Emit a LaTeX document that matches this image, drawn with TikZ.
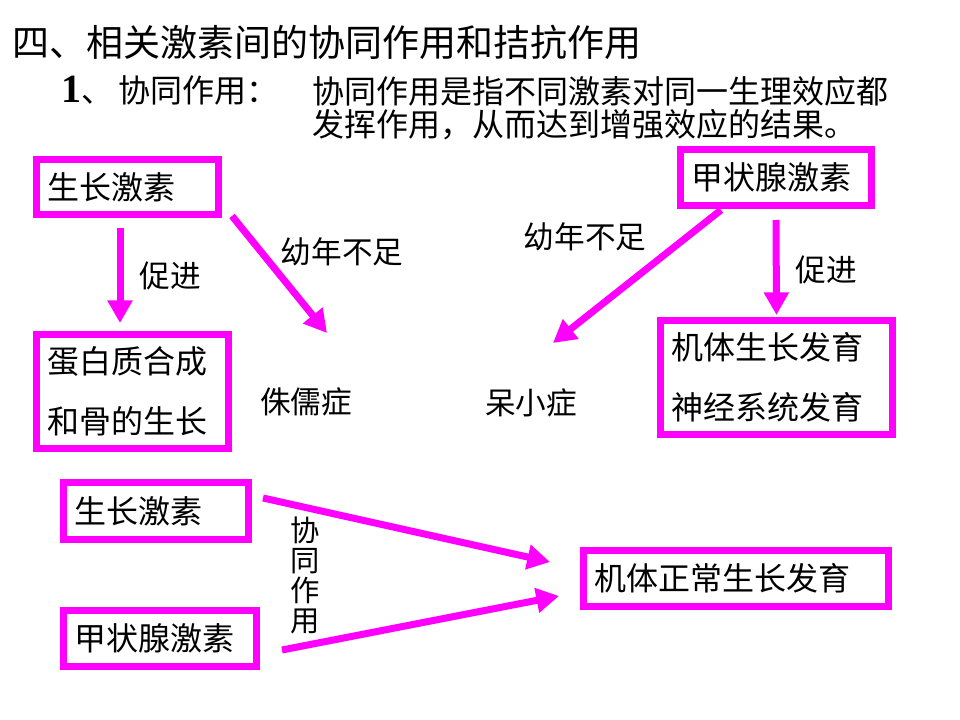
\documentclass[tikz,border=0pt]{standalone}
\usepackage{fontspec}
\setmainfont{Noto Sans CJK SC}
\newfontfamily\numfont{Liberation Serif}
\usepackage{tikz}
\usepackage{xcolor}
\usetikzlibrary{arrows.meta, positioning, calc}
\definecolor{mgnt}{RGB}{255,0,255}
\tikzset{
  % Magenta framed box, text flush left
  MB/.style={rectangle,draw=mgnt,line width=5.25pt,
             text width=#1,align=left,inner xsep=8pt,inner ysep=0pt,
             font=\fontsize{24}{45}\selectfont},
  MB/.default=120pt,
  % Plain label beside an arrow
  LB/.style={inner sep=0pt,font=\fontsize{23}{23}\selectfont},
  % Thick magenta arrow
  MArr/.style={-{Triangle[length=17pt,width=18pt]},line width=5.25pt,
               color=mgnt},
}

\begin{document}
\begin{tikzpicture}[x=0.75pt,y=-0.75pt]
        \path[fill=white] (0,0) rectangle (960,720);
        % Headings
        \node[anchor=west,inner sep=0pt,
              font=\fontsize{27.75}{28}\selectfont]
              at (12,42) (ti) {四、相关激素间的协同作用和拮抗作用};
        \node[anchor=west,inner sep=0pt,font=\fontsize{24}{24}\selectfont]
              at (61,90) (sub)
              {{\numfont\bfseries\fontsize{30}{30}\selectfont 1}、\hspace{4pt}协同作用：};
        \node[anchor=west,inner sep=0pt,align=left,
              font=\fontsize{24}{24.75}\selectfont]
              at (312,108.5) (df)
              {协同作用是指不同激素对同一生理效应都\\
               发挥作用，从而达到增强效应的结果。};
        % Growth hormone branch
        \node[MB=120.5pt,minimum height=41.25pt] at (127.5,187) (gh1)
              {生长激素};
        \node[MB=128pt,minimum height=85.5pt] at (132.5,391.5) (dbz)
              {蛋白质合成\\和骨的生长};
        \node[LB] at (170,276) (cj1) {促进};
        \node[LB] at (342,252) (yn1) {幼年不足};
        \node[LB] at (306,402) (ru) {侏儒症};
        \draw[MArr] ($(gh1.south)+(-7.5,10)$) -- ($(dbz.north)+(-12.5,-8)$);
        \draw[MArr] ($(gh1.south east)+(10,-2)$) -- ($(ru.center)+(21,-69)$);
        % Thyroid hormone branch
        \node[MB=127.25pt,minimum height=42pt] at (776,177.5) (jz1)
              {甲状腺激素};
        \node[MB=158pt,minimum height=85.5pt] at (776.5,377.5) (jt)
              {机体生长发育\\神经系统发育};
        \node[LB] at (585,237) (yn2) {幼年不足};
        \node[LB] at (531,403) (dx) {呆小症};
        \node[LB] at (826,270) (cj2) {促进};
        \draw[MArr] ($(jz1.south)+(-55,1)$) -- ($(dx.center)+(22,-60)$);
        \draw[MArr] ($(jz1.south)+(0,11)$) -- ($(jt.north)+(0,-2)$);
        % Both hormones converge
        \node[MB=122.75pt,minimum height=42.75pt] at (156,511) (gh2)
              {生长激素};
        \node[MB=128.75pt,minimum height=42pt] at (160,638.5) (jz2)
              {甲状腺激素};
        \node[MB=212.75pt,minimum height=42pt] at (736,578.5) (zc)
              {机体正常生长发育};
        \node[LB,align=center,font=\fontsize{22}{22.5}\selectfont]
              at (305,575) (xt) {协\\同\\作\\用};
        \draw[MArr] ($(gh2.east)+(11,-13)$) -- ($(zc.west)+(-30,-16.5)$);
        \draw[MArr] ($(jz2.east)+(22,11.5)$) -- ($(zc.west)+(-21,17.5)$);
      \end{tikzpicture}
\end{document}
